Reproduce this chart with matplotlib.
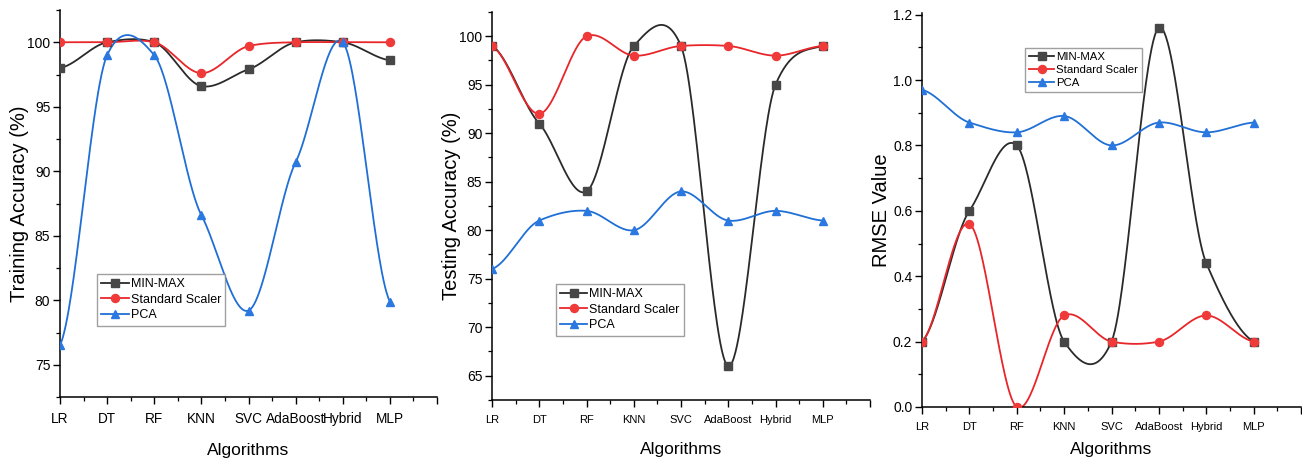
import matplotlib
matplotlib.use("Agg")
import matplotlib.pyplot as plt
import numpy as np
from matplotlib.ticker import MultipleLocator, FixedLocator, FormatStrFormatter

# %% data
algorithms = ["LR", "DT", "RF", "KNN", "SVC", "AdaBoost", "Hybrid", "MLP"]

train_minmax = [98.0, 100.0, 100.0, 96.6, 97.9, 100.0, 100.0, 98.6]
train_std = [100.0, 100.0, 100.0, 97.6, 99.7, 100.0, 100.0, 100.0]
train_pca = [76.5, 99.0, 99.0, 86.6, 79.2, 90.7, 100.0, 79.9]

test_minmax = [99, 91, 84, 99, 99, 66, 95, 99]
test_std = [99, 92, 100, 98, 99, 99, 98, 99]
test_pca = [76, 81, 82, 80, 84, 81, 82, 81]

rmse_minmax = [0.20, 0.60, 0.80, 0.20, 0.20, 1.16, 0.44, 0.20]
rmse_std = [0.20, 0.56, 0.00, 0.28, 0.20, 0.20, 0.28, 0.20]
rmse_pca = [0.97, 0.87, 0.84, 0.89, 0.80, 0.87, 0.84, 0.87]

series_names = ["MIN-MAX", "Standard Scaler", "PCA"]

# %% style
plt.rcParams["font.family"] = ["Liberation Sans", "DejaVu Sans"]

line_colors = ["#2a2a2a", "#e8262a", "#1f6fd6"]
marker_colors = ["#474747", "#f03a3a", "#2a78e0"]
markers = ["s", "o", "^"]


def smooth_curve(y, tension=0.7, num=60):
    # cardinal (Hermite) spline through the points, like Origin's spline connector
    y = np.asarray(y, dtype=float)
    n = len(y)
    yp = np.concatenate([[y[0]], y, [y[-1]]])
    m = tension * (yp[2:] - yp[:-2]) / 2.0
    xs_all, ys_all = [], []
    t = np.linspace(0, 1, num)
    h00 = 2 * t ** 3 - 3 * t ** 2 + 1
    h10 = t ** 3 - 2 * t ** 2 + t
    h01 = -2 * t ** 3 + 3 * t ** 2
    h11 = t ** 3 - t ** 2
    for i in range(n - 1):
        xs_all.append(i + t)
        ys_all.append(h00 * y[i] + h10 * m[i] + h01 * y[i + 1] + h11 * m[i + 1])
    return np.concatenate(xs_all), np.concatenate(ys_all)


def draw_panel(ax, series, ylim, major, minor, ylabel, xtick_fs, xtick_pad,
               xlabel_pad, legend_anchor, legend_fs):
    x = np.arange(len(algorithms))
    for k, vals in enumerate(series):
        xs, ys = smooth_curve(vals)
        ax.plot(xs, ys, color=line_colors[k], lw=1.3, zorder=2)
        ax.plot(x, vals, linestyle="none", marker=markers[k], ms=5.8,
                color=marker_colors[k], zorder=3)
        ax.plot([], [], color=line_colors[k], lw=1.3, marker=markers[k], ms=5.8,
                mfc=marker_colors[k], mec=marker_colors[k], label=series_names[k])
    ax.set_xlim(0, 8)
    ax.set_ylim(*ylim)
    ax.xaxis.set_major_locator(FixedLocator(range(9)))
    ax.set_xticklabels(algorithms + [""])
    ax.xaxis.set_minor_locator(MultipleLocator(0.5))
    ax.yaxis.set_major_locator(MultipleLocator(major))
    ax.yaxis.set_minor_locator(MultipleLocator(minor))
    for side in ["top", "right"]:
        ax.spines[side].set_visible(False)
    for side in ["left", "bottom"]:
        ax.spines[side].set_linewidth(1.1)
    ax.tick_params(which="major", direction="out", length=5, width=1.0)
    ax.tick_params(which="minor", direction="out", length=3, width=0.9)
    ax.tick_params(axis="y", labelsize=10, pad=2)
    ax.tick_params(axis="x", labelsize=xtick_fs, pad=xtick_pad)
    ax.set_ylabel(ylabel, fontsize=14.5)
    ax.yaxis.set_label_coords(-0.083, 0.5)
    ax.set_xlabel("Algorithms", fontsize=12.5, labelpad=xlabel_pad)
    leg = ax.legend(loc="upper left", bbox_to_anchor=legend_anchor, borderaxespad=0,
                    fontsize=legend_fs, frameon=True, fancybox=False, handlelength=2.2,
                    handletextpad=0.15, labelspacing=0.28, borderpad=0.35)
    leg.get_frame().set_edgecolor("#888888")
    leg.get_frame().set_linewidth(1.0)


# %% figure
fig = plt.figure(figsize=(13.02, 4.62), dpi=100)
W, H = 1302.0, 462.0
ax1 = fig.add_axes([60 / W, (H - 397) / H, (437 - 60) / W, (397 - 10) / H])
ax2 = fig.add_axes([492 / W, (H - 400) / H, (870 - 492) / W, (400 - 12) / H])
ax3 = fig.add_axes([922 / W, (H - 407) / H, (1301 - 922) / W, (407 - 13) / H])

draw_panel(ax1, [train_minmax, train_std, train_pca], (72.5, 102.5), 5, 2.5,
           "Training Accuracy (%)", 9.8, 6, 12, (0.098, 0.318), 9)
draw_panel(ax2, [test_minmax, test_std, test_pca], (62.5, 102.5), 5, 2.5,
           "Testing Accuracy (%)", 8, 6, 12, (0.168, 0.299), 9)
draw_panel(ax3, [rmse_minmax, rmse_std, rmse_pca], (0.0, 1.205), 0.2, 0.1,
           "RMSE Value", 8, 6, 7, (0.272, 0.911), 8.2)
ax3.yaxis.set_major_formatter(FormatStrFormatter("%.1f"))

fig.savefig("out.png", dpi=100)
